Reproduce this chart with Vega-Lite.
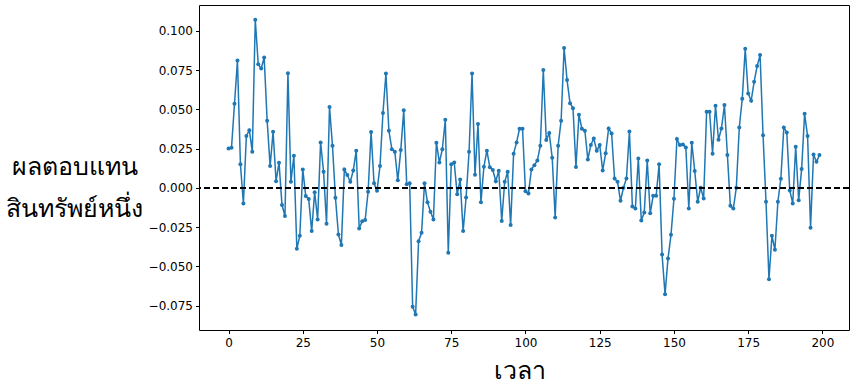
{
  "$schema": "https://vega.github.io/schema/vega-lite/v6.json",
  "autosize": {"type": "none"},
  "width": 650,
  "height": 325,
  "padding": {"left": 199, "top": 5, "right": 7, "bottom": 55},
  "background": "white",
  "config": {
    "view": {"stroke": "#000000", "strokeWidth": 1},
    "axis": {"grid": false, "domain": false, "tickColor": "#000000", "tickSize": 3.5, "labelColor": "#000000", "labelFont": "DejaVu Sans", "labelFontSize": 12, "labelPadding": 3, "titleColor": "#000000", "titleFontWeight": "normal"}
  },
  "data": {"values": [
    {"t":0,"r":0.025},{"t":1,"r":0.0255},{"t":2,"r":0.0535},{"t":3,"r":0.081},{"t":4,"r":0.015},{"t":5,"r":-0.010},{"t":6,"r":0.033},{"t":7,"r":0.0367},{"t":8,"r":0.023},{"t":9,"r":0.107},
    {"t":10,"r":0.0786},{"t":11,"r":0.076},{"t":12,"r":0.083},{"t":13,"r":0.0427},{"t":14,"r":0.0138},{"t":15,"r":0.0357},{"t":16,"r":0.0042},{"t":17,"r":0.016},{"t":18,"r":-0.011},{"t":19,"r":-0.018},
    {"t":20,"r":0.073},{"t":21,"r":0.0038},{"t":22,"r":0.0204},{"t":23,"r":-0.0389},{"t":24,"r":-0.0306},{"t":25,"r":0.0117},{"t":26,"r":-0.0053},{"t":27,"r":-0.0072},{"t":28,"r":-0.0276},{"t":29,"r":-0.0028},
    {"t":30,"r":-0.0202},{"t":31,"r":0.0289},{"t":32,"r":0.0102},{"t":33,"r":-0.0229},{"t":34,"r":0.0514},{"t":35,"r":0.0268},{"t":36,"r":-0.0064},{"t":37,"r":-0.0297},{"t":38,"r":-0.0365},{"t":39,"r":0.0117},
    {"t":40,"r":0.0081},{"t":41,"r":0.0038},{"t":42,"r":0.011},{"t":43,"r":0.0236},{"t":44,"r":-0.0259},{"t":45,"r":-0.0214},{"t":46,"r":-0.0206},{"t":47,"r":-0.0025},{"t":48,"r":0.0355},{"t":49,"r":0.0028},
    {"t":50,"r":-0.0019},{"t":51,"r":0.0138},{"t":52,"r":0.0476},{"t":53,"r":0.0728},{"t":54,"r":0.0363},{"t":55,"r":0.0246},{"t":56,"r":0.0229},{"t":57,"r":0.0047},{"t":58,"r":0.024},{"t":59,"r":0.0493},
    {"t":60,"r":0.0023},{"t":61,"r":0.0028},{"t":62,"r":-0.0758},{"t":63,"r":-0.0807},{"t":64,"r":-0.034},{"t":65,"r":-0.0287},{"t":66,"r":0.0028},{"t":67,"r":-0.0093},{"t":68,"r":-0.0153},{"t":69,"r":-0.0202},
    {"t":70,"r":0.0287},{"t":71,"r":0.0161},{"t":72,"r":0.0246},{"t":73,"r":0.0433},{"t":74,"r":-0.0414},{"t":75,"r":0.0149},{"t":76,"r":0.0161},{"t":77,"r":-0.0042},{"t":78,"r":0.0053},{"t":79,"r":-0.0276},
    {"t":80,"r":-0.0062},{"t":81,"r":0.0229},{"t":82,"r":0.0728},{"t":83,"r":0.0083},{"t":84,"r":0.0406},{"t":85,"r":-0.0093},{"t":86,"r":0.0134},{"t":87,"r":0.0236},{"t":88,"r":0.013},{"t":89,"r":0.0113},
    {"t":90,"r":0.0042},{"t":91,"r":0.0108},{"t":92,"r":-0.0212},{"t":93,"r":0.0038},{"t":94,"r":0.0102},{"t":95,"r":-0.0238},{"t":96,"r":0.0217},{"t":97,"r":0.0289},{"t":98,"r":0.0376},{"t":99,"r":0.0376},
    {"t":100,"r":-0.0023},{"t":101,"r":-0.0036},{"t":102,"r":0.0117},{"t":103,"r":0.0144},{"t":104,"r":0.0174},{"t":105,"r":0.0268},{"t":106,"r":0.075},{"t":107,"r":0.0304},{"t":108,"r":0.0348},{"t":109,"r":0.0191},
    {"t":110,"r":-0.0189},{"t":111,"r":0.0268},{"t":112,"r":0.0427},{"t":113,"r":0.089},{"t":114,"r":0.0686},{"t":115,"r":0.0539},{"t":116,"r":0.0507},{"t":117,"r":0.0132},{"t":118,"r":0.0465},{"t":119,"r":0.0376},
    {"t":120,"r":0.0363},{"t":121,"r":0.018},{"t":122,"r":0.0272},{"t":123,"r":0.0314},{"t":124,"r":0.0236},{"t":125,"r":0.0272},{"t":126,"r":0.011},{"t":127,"r":0.0219},{"t":128,"r":0.0378},{"t":129,"r":0.0346},
    {"t":130,"r":0.0059},{"t":131,"r":0.0038},{"t":132,"r":-0.0083},{"t":133,"r":0.0},{"t":134,"r":0.0059},{"t":135,"r":0.0359},{"t":136,"r":-0.0119},{"t":137,"r":-0.0132},{"t":138,"r":0.0187},{"t":139,"r":-0.0208},
    {"t":140,"r":-0.0157},{"t":141,"r":0.0174},{"t":142,"r":-0.0163},{"t":143,"r":-0.0051},{"t":144,"r":-0.0051},{"t":145,"r":0.0149},{"t":146,"r":-0.0425},{"t":147,"r":-0.0679},{"t":148,"r":-0.045},{"t":149,"r":-0.030},
    {"t":150,"r":-0.007},{"t":151,"r":0.031},{"t":152,"r":0.0272},{"t":153,"r":0.0276},{"t":154,"r":0.0257},{"t":155,"r":-0.0132},{"t":156,"r":0.0287},{"t":157,"r":0.0106},{"t":158,"r":-0.0089},{"t":159,"r":0.0},
    {"t":160,"r":-0.0068},{"t":161,"r":0.0484},{"t":162,"r":0.0484},{"t":163,"r":0.0217},{"t":164,"r":0.0522},{"t":165,"r":0.0306},{"t":166,"r":0.0378},{"t":167,"r":0.0527},{"t":168,"r":0.0208},{"t":169,"r":-0.0115},
    {"t":170,"r":-0.0132},{"t":171,"r":0.0},{"t":172,"r":0.0384},{"t":173,"r":0.0567},{"t":174,"r":0.0885},{"t":175,"r":0.060},{"t":176,"r":0.0554},{"t":177,"r":0.0675},{"t":178,"r":0.0775},{"t":179,"r":0.0845},
    {"t":180,"r":0.0335},{"t":181,"r":-0.0089},{"t":182,"r":-0.0582},{"t":183,"r":-0.0306},{"t":184,"r":-0.0395},{"t":185,"r":-0.0089},{"t":186,"r":0.0057},{"t":187,"r":0.0384},{"t":188,"r":0.0352},{"t":189,"r":-0.0017},
    {"t":190,"r":-0.010},{"t":191,"r":0.0261},{"t":192,"r":-0.0079},{"t":193,"r":0.0119},{"t":194,"r":0.0471},{"t":195,"r":0.0329},{"t":196,"r":-0.0255},{"t":197,"r":0.0212},{"t":198,"r":0.0166},{"t":199,"r":0.0208}
  ]},
  "layer": [
    {
      "mark": {"type": "line", "color": "#1f77b4", "strokeWidth": 1.5, "clip": true},
      "encoding": {
        "x": {"field": "t", "type": "quantitative", "scale": {"domain": [-9.95, 208.95], "nice": false, "zero": false},
          "axis": {"values": [0, 25, 50, 75, 100, 125, 150, 175, 200], "format": "d", "labelPadding": 4,
            "title": "เวลา", "titleFontSize": 25, "titleX": 320, "titleY": 48, "titleAlign": "center", "titleBaseline": "alphabetic"}},
        "y": {"field": "r", "type": "quantitative", "scale": {"domain": [-0.0906, 0.1164], "nice": false, "zero": false},
          "axis": {"values": [-0.075, -0.05, -0.025, 0, 0.025, 0.05, 0.075, 0.1], "format": ".3f",
            "title": ["ผลตอบแทน", "สินทรัพย์หนึ่ง"], "titleFontSize": 25, "titleAngle": 0, "titleAlign": "center",
            "titleBaseline": "alphabetic", "titleX": -125, "titleY": 169, "titleLineHeight": 42}}
      }
    },
    {
      "mark": {"type": "point", "filled": true, "color": "#1f77b4", "size": 16, "opacity": 1},
      "encoding": {
        "x": {"field": "t", "type": "quantitative"},
        "y": {"field": "r", "type": "quantitative"}
      }
    },
    {
      "mark": {"type": "rule", "color": "#000000", "strokeWidth": 1.5, "strokeDash": [6, 3]},
      "encoding": {"y": {"datum": 0}}
    }
  ]
}
